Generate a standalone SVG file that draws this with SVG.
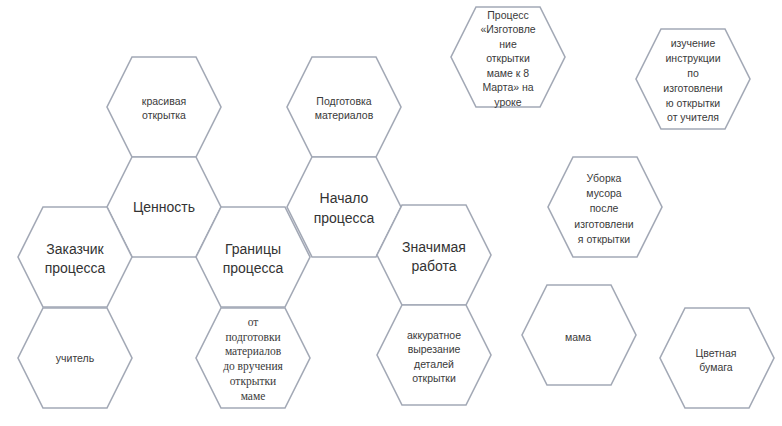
<svg xmlns="http://www.w3.org/2000/svg" xmlns:xlink="http://www.w3.org/1999/xlink" width="782" height="426" viewBox="0 0 782 426">
<style>
.hx{fill:#ffffff;stroke:#a3a9b6;stroke-width:1.6;stroke-linejoin:miter}
text{font-family:"Liberation Sans",Arial,sans-serif;fill:#3a3a3a;text-anchor:middle}
.big{font-size:14px;fill:#333333}
.sm{font-size:10.5px}
.ser{font-family:"Liberation Serif","Times New Roman",serif;font-size:11.5px}
</style>
<defs>
<path id="hex" d="M-32,-50 L32,-50 L57,0 L32,50 L-32,50 L-57,0 Z"/>
</defs>
<rect width="782" height="426" fill="#ffffff"/>
<g id="connectors"></g>
<g id="n-krasivaya"><use xlink:href="#hex" href="#hex" class="hx" x="164" y="107"/>
<text class="sm" x="164" y="105">красивая</text><text class="sm" x="164" y="119">открытка</text></g>
<g id="n-cennost"><use xlink:href="#hex" href="#hex" class="hx" x="164" y="207"/>
<text class="big" x="164" y="212">Ценность</text></g>
<g id="n-zakazchik"><use xlink:href="#hex" href="#hex" class="hx" x="75" y="257"/>
<text class="big" x="75" y="254">Заказчик</text><text class="big" x="75" y="273">процесса</text></g>
<g id="n-uchitel"><use xlink:href="#hex" href="#hex" class="hx" x="75" y="358"/>
<text class="sm" x="75" y="362">учитель</text></g>
<g id="n-granicy"><use xlink:href="#hex" href="#hex" class="hx" x="253" y="257"/>
<text class="big" x="253" y="254">Границы</text><text class="big" x="253" y="273">процесса</text></g>
<g id="n-ot"><use xlink:href="#hex" href="#hex" class="hx" x="253" y="358"/>
<text class="ser" x="253" y="326">от</text><text class="ser" x="253" y="341">подготовки</text><text class="ser" x="253" y="355">материалов</text><text class="ser" x="253" y="370">до вручения</text><text class="ser" x="253" y="385">открытки</text><text class="ser" x="253" y="400">маме</text></g>
<g id="n-podgotovka"><use xlink:href="#hex" href="#hex" class="hx" x="344" y="107"/>
<text class="sm" x="344" y="105">Подготовка</text><text class="sm" x="344" y="119">материалов</text></g>
<g id="n-nachalo"><use xlink:href="#hex" href="#hex" class="hx" x="344" y="207"/>
<text class="big" x="344" y="203">Начало</text><text class="big" x="344" y="223">процесса</text></g>
<g id="n-znachimaya"><use xlink:href="#hex" href="#hex" class="hx" x="434" y="255"/>
<text class="big" x="434" y="252">Значимая</text><text class="big" x="434" y="271">работа</text></g>
<g id="n-akkuratnoe"><use xlink:href="#hex" href="#hex" class="hx" x="434" y="355"/>
<text class="sm" x="434" y="339">аккуратное</text><text class="sm" x="434" y="353">вырезание</text><text class="sm" x="434" y="368">деталей</text><text class="sm" x="434" y="382">открытки</text></g>
<g id="n-process"><use xlink:href="#hex" href="#hex" class="hx" x="508" y="57"/>
<text class="sm" x="508" y="19">Процесс</text><text class="sm" x="508" y="33">«Изготовле</text><text class="sm" x="508" y="48">ние</text><text class="sm" x="508" y="62">открытки</text><text class="sm" x="508" y="77">маме к 8</text><text class="sm" x="508" y="91">Марта» на</text><text class="sm" x="508" y="106">уроке</text></g>
<g id="n-izuchenie"><use xlink:href="#hex" href="#hex" class="hx" x="693" y="79"/>
<text class="sm" x="693" y="47">изучение</text><text class="sm" x="693" y="62">инструкции</text><text class="sm" x="693" y="77">по</text><text class="sm" x="693" y="92">изготовлени</text><text class="sm" x="693" y="107">ю открытки</text><text class="sm" x="693" y="121">от учителя</text></g>
<g id="n-uborka"><use xlink:href="#hex" href="#hex" class="hx" x="605" y="207"/>
<text class="sm" x="604" y="182">Уборка</text><text class="sm" x="604" y="197">мусора</text><text class="sm" x="604" y="212">после</text><text class="sm" x="604" y="228">изготовлени</text><text class="sm" x="604" y="243">я открытки</text></g>
<g id="n-mama"><use xlink:href="#hex" href="#hex" class="hx" x="579" y="335"/>
<text class="sm" x="578" y="341">мама</text></g>
<g id="n-cvetnaya"><use xlink:href="#hex" href="#hex" class="hx" x="717" y="358"/>
<text class="sm" x="716" y="357">Цветная</text><text class="sm" x="716" y="371">бумага</text></g>
</svg>
